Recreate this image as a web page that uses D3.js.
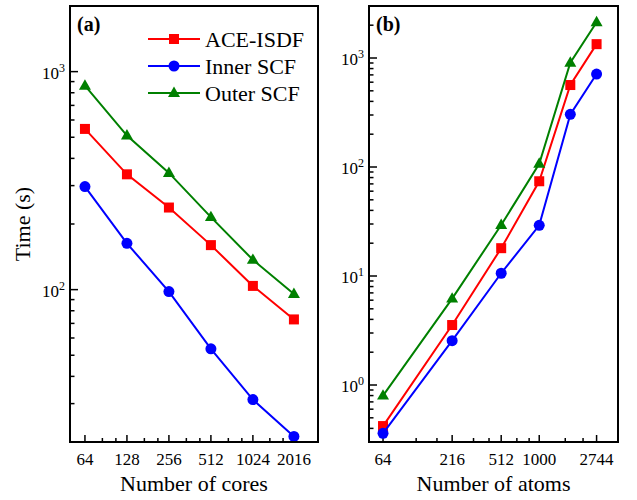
<!DOCTYPE html>
<html>
<head>
<meta charset="utf-8">
<script src="https://cdn.jsdelivr.net/npm/d3@7"></script>
<style>
  html, body { margin: 0; padding: 0; background: #fff; }
  svg { display: block; }
  text { font-family: "Liberation Serif", "Times New Roman", serif; fill: #000; }
</style>
</head>
<body>
<svg id="chart" width="637" height="500"></svg>
<script>
// ---- Data ----
const coresTicks = [64, 128, 256, 512, 1024, 2016];
const coresAceIsdf = [546, 338, 238, 160, 104, 73];
const coresInner   = [297, 163, 98, 53.5, 31.3, 21.2];
const coresOuter   = [862, 509, 343, 215, 137, 95.5];

const atoms = [64, 216, 512, 1000, 1728, 2744];
const atomsTickLabels = [64, 216, 512, 1000, 2744];
const atomsAceIsdf = [0.42, 3.55, 18, 74, 565, 1340];
const atomsInner   = [0.36, 2.55, 10.6, 29.2, 304, 713];
const atomsOuter   = [0.80, 6.2, 29.4, 107, 905, 2130];

const seriesNames = ["ACE-ISDF", "Inner SCF", "Outer SCF"];
const seriesColors = ["#ff0000", "#0000ff", "#008000"];
const seriesShapes = ["square", "circle", "triangle"];

// ---- Helpers ----
const svg = d3.select("#chart");

function marker(g, shape, color, x, y) {
  if (shape === "square") {
    g.append("rect").attr("x", x - 5).attr("y", y - 5).attr("width", 10).attr("height", 10).attr("fill", color);
  } else if (shape === "circle") {
    g.append("circle").attr("cx", x).attr("cy", y).attr("r", 5.5).attr("fill", color);
  } else {
    const s = 12, h = s * Math.sqrt(3) / 2;
    g.append("path")
      .attr("d", `M${x},${y - h * 0.62}L${x + s / 2},${y + h * 0.38}L${x - s / 2},${y + h * 0.38}Z`)
      .attr("fill", color);
  }
}

function linearMinors(majors, n) {
  const out = [];
  for (let i = 0; i < majors.length - 1; i++) {
    const a = majors[i], b = majors[i + 1];
    for (let k = 1; k <= n; k++) out.push(a + (b - a) * k / (n + 1));
  }
  return out;
}

function logMinors(lo, hi) {
  const out = [];
  for (let e = Math.floor(Math.log10(lo)); e <= Math.ceil(Math.log10(hi)); e++) {
    for (let m = 2; m <= 9; m++) {
      const v = m * Math.pow(10, e);
      if (v >= lo * 0.999 && v <= hi * 1.001) out.push(v);
    }
  }
  return out;
}

function drawPanel(opt) {
  const { left, right, top, bottom, xDomain, yDomain, xMajors, xLabels, xData, series,
          yDecades, xTitle, panelLabel } = opt;
  const g = svg.append("g");
  const x = d3.scaleLog().base(2).domain(xDomain).range([left, right]);
  const y = d3.scaleLog().domain(yDomain).range([bottom, top]);

  // x ticks (inward)
  const xMinor = linearMinors(xMajors, 2);
  g.selectAll(null).data(xMajors).enter().append("line")
    .attr("x1", d => x(d)).attr("x2", d => x(d))
    .attr("y1", bottom).attr("y2", bottom - 7)
    .attr("stroke", "#000").attr("stroke-width", 1.5);
  g.selectAll(null).data(xMinor).enter().append("line")
    .attr("x1", d => x(d)).attr("x2", d => x(d))
    .attr("y1", bottom).attr("y2", bottom - 4)
    .attr("stroke", "#000").attr("stroke-width", 1.5);
  g.selectAll(null).data(xLabels).enter().append("text")
    .attr("x", d => x(d)).attr("y", bottom + 23)
    .attr("text-anchor", "middle").attr("font-size", 17)
    .text(d => d);

  // y ticks
  const yMinor = logMinors(yDomain[0], yDomain[1]);
  g.selectAll(null).data(yDecades).enter().append("line")
    .attr("x1", left).attr("x2", left + 8)
    .attr("y1", d => y(d)).attr("y2", d => y(d))
    .attr("stroke", "#000").attr("stroke-width", 1.5);
  g.selectAll(null).data(yMinor).enter().append("line")
    .attr("x1", left).attr("x2", left + 4.5)
    .attr("y1", d => y(d)).attr("y2", d => y(d))
    .attr("stroke", "#000").attr("stroke-width", 1.5);
  yDecades.forEach(d => {
    const t = g.append("text")
      .attr("x", left - 5).attr("y", y(d) + 7)
      .attr("text-anchor", "end").attr("font-size", 17);
    t.append("tspan").text("10");
    t.append("tspan").attr("font-size", 12).attr("dy", -7).text(Math.round(Math.log10(d)));
  });

  // series
  series.forEach((vals, i) => {
    const pts = xData.map((xv, j) => [x(xv), y(vals[j])]);
    g.append("path")
      .attr("d", d3.line()(pts))
      .attr("fill", "none").attr("stroke", seriesColors[i]).attr("stroke-width", 2);
    pts.forEach(p => marker(g, seriesShapes[i], seriesColors[i], p[0], p[1]));
  });

  // frame
  g.append("rect").attr("x", left).attr("y", top)
    .attr("width", right - left).attr("height", bottom - top)
    .attr("fill", "none").attr("stroke", "#000").attr("stroke-width", 2);

  // titles
  g.append("text").attr("x", (left + right) / 2).attr("y", 491)
    .attr("text-anchor", "middle").attr("font-size", 22).text(xTitle);
  g.append("text").attr("x", left + 7).attr("y", 31)
    .attr("font-size", 20).attr("font-weight", "bold").text(panelLabel);
  return { x, y, g };
}

// Panel (a)
drawPanel({
  left: 70, right: 318, top: 6, bottom: 442,
  xDomain: [50, 3000], yDomain: [20, 2000],
  xMajors: coresTicks, xLabels: coresTicks, xData: coresTicks,
  series: [coresAceIsdf, coresInner, coresOuter],
  yDecades: [100, 1000],
  xTitle: "Number of cores", panelLabel: "(a)"
});

// Panel (b)
drawPanel({
  left: 369, right: 618, top: 6, bottom: 442,
  xDomain: [50, 4000], yDomain: [0.3, 3000],
  xMajors: atomsTickLabels, xLabels: atomsTickLabels, xData: atoms,
  series: [atomsAceIsdf, atomsInner, atomsOuter],
  yDecades: [1, 10, 100, 1000],
  xTitle: "Number of atoms", panelLabel: "(b)"
});

// y axis title
svg.append("text")
  .attr("transform", "translate(30,224) rotate(-90)")
  .attr("text-anchor", "middle").attr("font-size", 22).text("Time (s)");

// Legend
const legend = svg.append("g");
const legendY = [39, 66, 93];
seriesNames.forEach((name, i) => {
  legend.append("line").attr("x1", 148).attr("x2", 200)
    .attr("y1", legendY[i]).attr("y2", legendY[i])
    .attr("stroke", seriesColors[i]).attr("stroke-width", 2);
  marker(legend, seriesShapes[i], seriesColors[i], 174, legendY[i]);
  legend.append("text").attr("x", 205).attr("y", legendY[i] + 7.5)
    .attr("font-size", 22).text(name);
});
</script>
</body>
</html>
